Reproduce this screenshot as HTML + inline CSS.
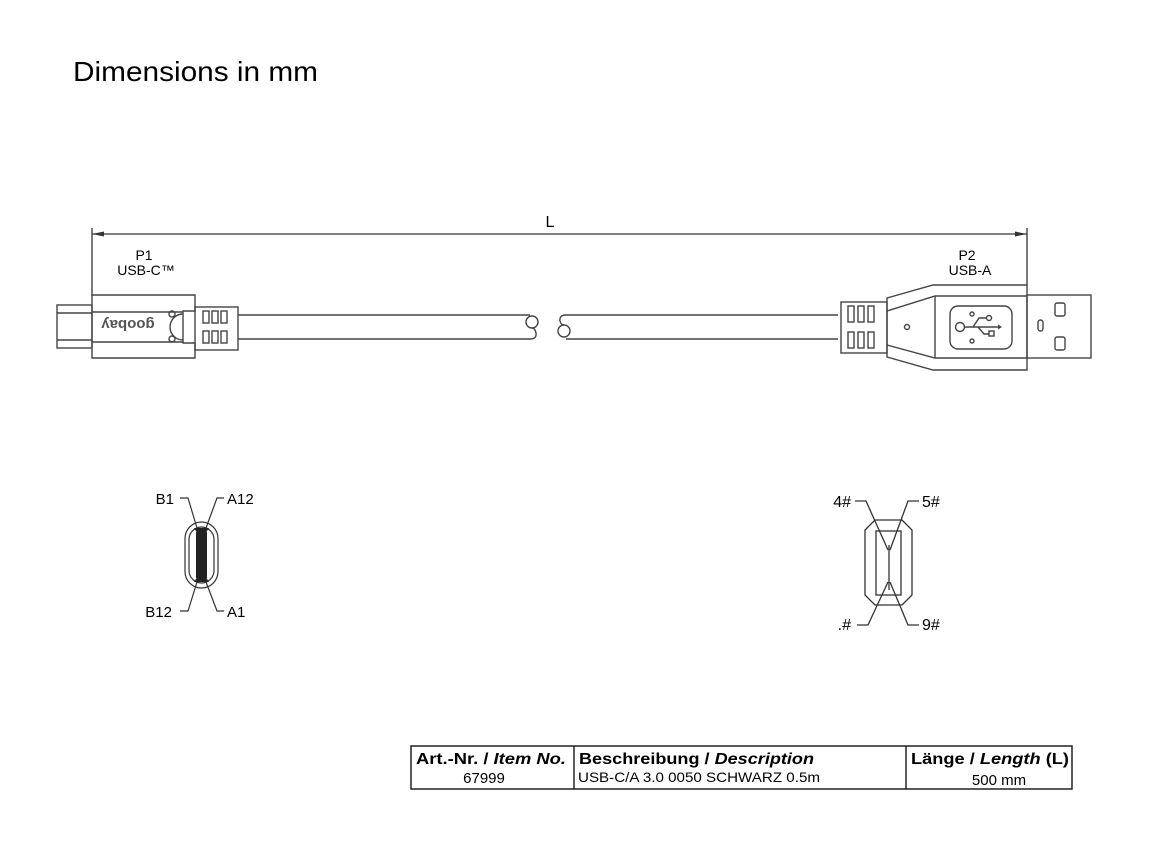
<!DOCTYPE html>
<html><head><meta charset="utf-8"><style>
html,body{margin:0;padding:0;background:#fff;}
svg{display:block;font-family:"Liberation Sans",Arial,sans-serif;}
</style></head><body>
<svg width="1152" height="864" viewBox="0 0 1152 864" xmlns="http://www.w3.org/2000/svg">
<rect width="1152" height="864" fill="#fff"/>
<text x="73" y="81" font-size="28" fill="#000" textLength="245" lengthAdjust="spacingAndGlyphs">Dimensions in mm</text>

<g stroke="#333" stroke-width="1.3" fill="none">
<line x1="92" y1="228" x2="92" y2="296"/>
<line x1="1027" y1="228" x2="1027" y2="286"/>
<line x1="92" y1="234" x2="1027" y2="234"/>
</g>
<polygon points="92,234 104,231.5 104,236.5" fill="#333"/>
<polygon points="1027,234 1015,231.5 1015,236.5" fill="#333"/>
<text x="550" y="227" font-size="16" text-anchor="middle">L</text>
<text x="144" y="260" font-size="14" text-anchor="middle">P1</text>
<text x="146" y="275" font-size="14" text-anchor="middle">USB-C™</text>
<text x="967" y="260" font-size="14" text-anchor="middle">P2</text>
<text x="970" y="275" font-size="14" text-anchor="middle">USB-A</text>

<g stroke="#444" stroke-width="1.4" fill="none">
<rect x="57" y="305" width="35" height="43"/>
<line x1="57" y1="313" x2="92" y2="313"/>
<line x1="57" y1="340" x2="92" y2="340"/>
<path d="M92,295 H195 V311 H183 V343 H195 V358 H92 Z"/>
<line x1="92" y1="312" x2="183" y2="312"/>
<line x1="92" y1="342" x2="183" y2="342"/>
<path d="M183,314 A13,13 0 0 0 183,340"/>
<circle cx="172" cy="314" r="3"/>
<circle cx="172" cy="339" r="3"/>
<rect x="195" y="307" width="43" height="43"/>
<rect x="203" y="311" width="6" height="12"/><rect x="212" y="311" width="6" height="12"/><rect x="221" y="311" width="6" height="12"/>
<rect x="203" y="331" width="6" height="12"/><rect x="212" y="331" width="6" height="12"/><rect x="221" y="331" width="6" height="12"/>
<!-- cable -->
<path d="M238,315 H530"/>
<circle cx="532" cy="322" r="6"/>
<path d="M238,339 H530 Q537,339 536,333 Q535,328 532,328"/>
<path d="M838,315 H566"/>
<circle cx="564" cy="331" r="6"/>
<path d="M838,339 H566 M566,315 Q559,315 560,321 Q561,325 564,325"/>
<!-- USB-A -->
<rect x="841" y="302" width="46" height="51"/>
<rect x="848" y="306" width="6" height="16"/><rect x="858" y="306" width="6" height="16"/><rect x="868" y="306" width="6" height="16"/>
<rect x="848" y="332" width="6" height="16"/><rect x="858" y="332" width="6" height="16"/><rect x="868" y="332" width="6" height="16"/>
<path d="M887,298 L933,285 H1027 V370 H933 L887,357 Z"/>
<path d="M887,311 L935,296 H1027"/>
<path d="M887,345 L935,358 H1027"/>
<line x1="935" y1="296" x2="935" y2="358"/>
<circle cx="907" cy="327" r="2.5"/>
<rect x="950" y="306" width="62" height="43" rx="8"/>
<circle cx="960" cy="327" r="4.5"/>
<path d="M965,327 H998 M973,327 L979,318 H986 M978,327 L984,334 H989"/>
<circle cx="989" cy="318" r="2.5"/>
<rect x="989" y="331" width="5" height="5"/>
<circle cx="972" cy="314" r="2"/><circle cx="972" cy="341" r="2"/>
<rect x="1027" y="295" width="64" height="63"/>
<rect x="1055" y="303" width="10" height="13" rx="2"/>
<rect x="1055" y="337" width="10" height="13" rx="2"/>
<rect x="1038" y="320" width="5" height="11" rx="2.5"/>
</g>
<polygon points="998,324.5 1002,327 998,329.5" fill="#444"/>
<g transform="rotate(180 128 325)"><text x="128" y="330" font-size="15" font-weight="bold" fill="#555" text-anchor="middle">goobay</text></g>

<g stroke="#333" stroke-width="1.2" fill="none">
<rect x="185" y="522" width="33" height="66" rx="16.5"/>
<rect x="189" y="527" width="25" height="56" rx="12.5"/>
<path d="M180,498 H188 L197,528"/>
<path d="M224,498 H217 L206,528"/>
<path d="M180,611 H188 L197,582"/>
<path d="M224,611 H217 L206,582"/>
</g>
<rect x="196" y="532" width="11" height="46" fill="#222"/>
<polygon points="194,528 209,528 203,537 200,537" fill="#222"/>
<polygon points="194,582 209,582 203,573 200,573" fill="#222"/>
<text x="174" y="504" font-size="15" text-anchor="end">B1</text>
<text x="227" y="504" font-size="15">A12</text>
<text x="172" y="617" font-size="15" text-anchor="end">B12</text>
<text x="227" y="617" font-size="15">A1</text>

<g stroke="#333" stroke-width="1.3" fill="none">
<path d="M875,520 H902 L912,530 V595 L902,605 H875 L865,595 V530 Z"/>
<rect x="876" y="531" width="25" height="64"/>
<path d="M855,501 H866 L888,550"/>
<path d="M919,501 H908 L890,550"/>
<path d="M857,625 H868 L888,582"/>
<path d="M919,625 H908 L890,582"/>
<line x1="889" y1="545" x2="889" y2="590"/>
</g>
<text x="851" y="507" font-size="16" text-anchor="end">4#</text>
<text x="922" y="507" font-size="16">5#</text>
<text x="851" y="630" font-size="16" text-anchor="end">.#</text>
<text x="922" y="630" font-size="16">9#</text>

<g stroke="#222" stroke-width="1.5" fill="none">
<rect x="411" y="746" width="661" height="43"/>
<line x1="574" y1="746" x2="574" y2="789"/>
<line x1="906" y1="746" x2="906" y2="789"/>
</g>
<g font-size="16" font-weight="bold">
<text x="416" y="764" textLength="150" lengthAdjust="spacingAndGlyphs">Art.-Nr. / <tspan font-style="italic">Item No.</tspan></text>
<text x="579" y="764" textLength="235" lengthAdjust="spacingAndGlyphs">Beschreibung / <tspan font-style="italic">Description</tspan></text>
<text x="911" y="764" textLength="158" lengthAdjust="spacingAndGlyphs">Länge / <tspan font-style="italic">Length</tspan> (L)</text>
</g>
<text x="484" y="783" font-size="15" text-anchor="middle">67999</text>
<text x="578" y="782" font-size="14" textLength="242" lengthAdjust="spacingAndGlyphs">USB-C/A 3.0 0050 SCHWARZ  0.5m</text>
<text x="999" y="785" font-size="15" text-anchor="middle">500 mm</text>
</svg>
</body></html>
